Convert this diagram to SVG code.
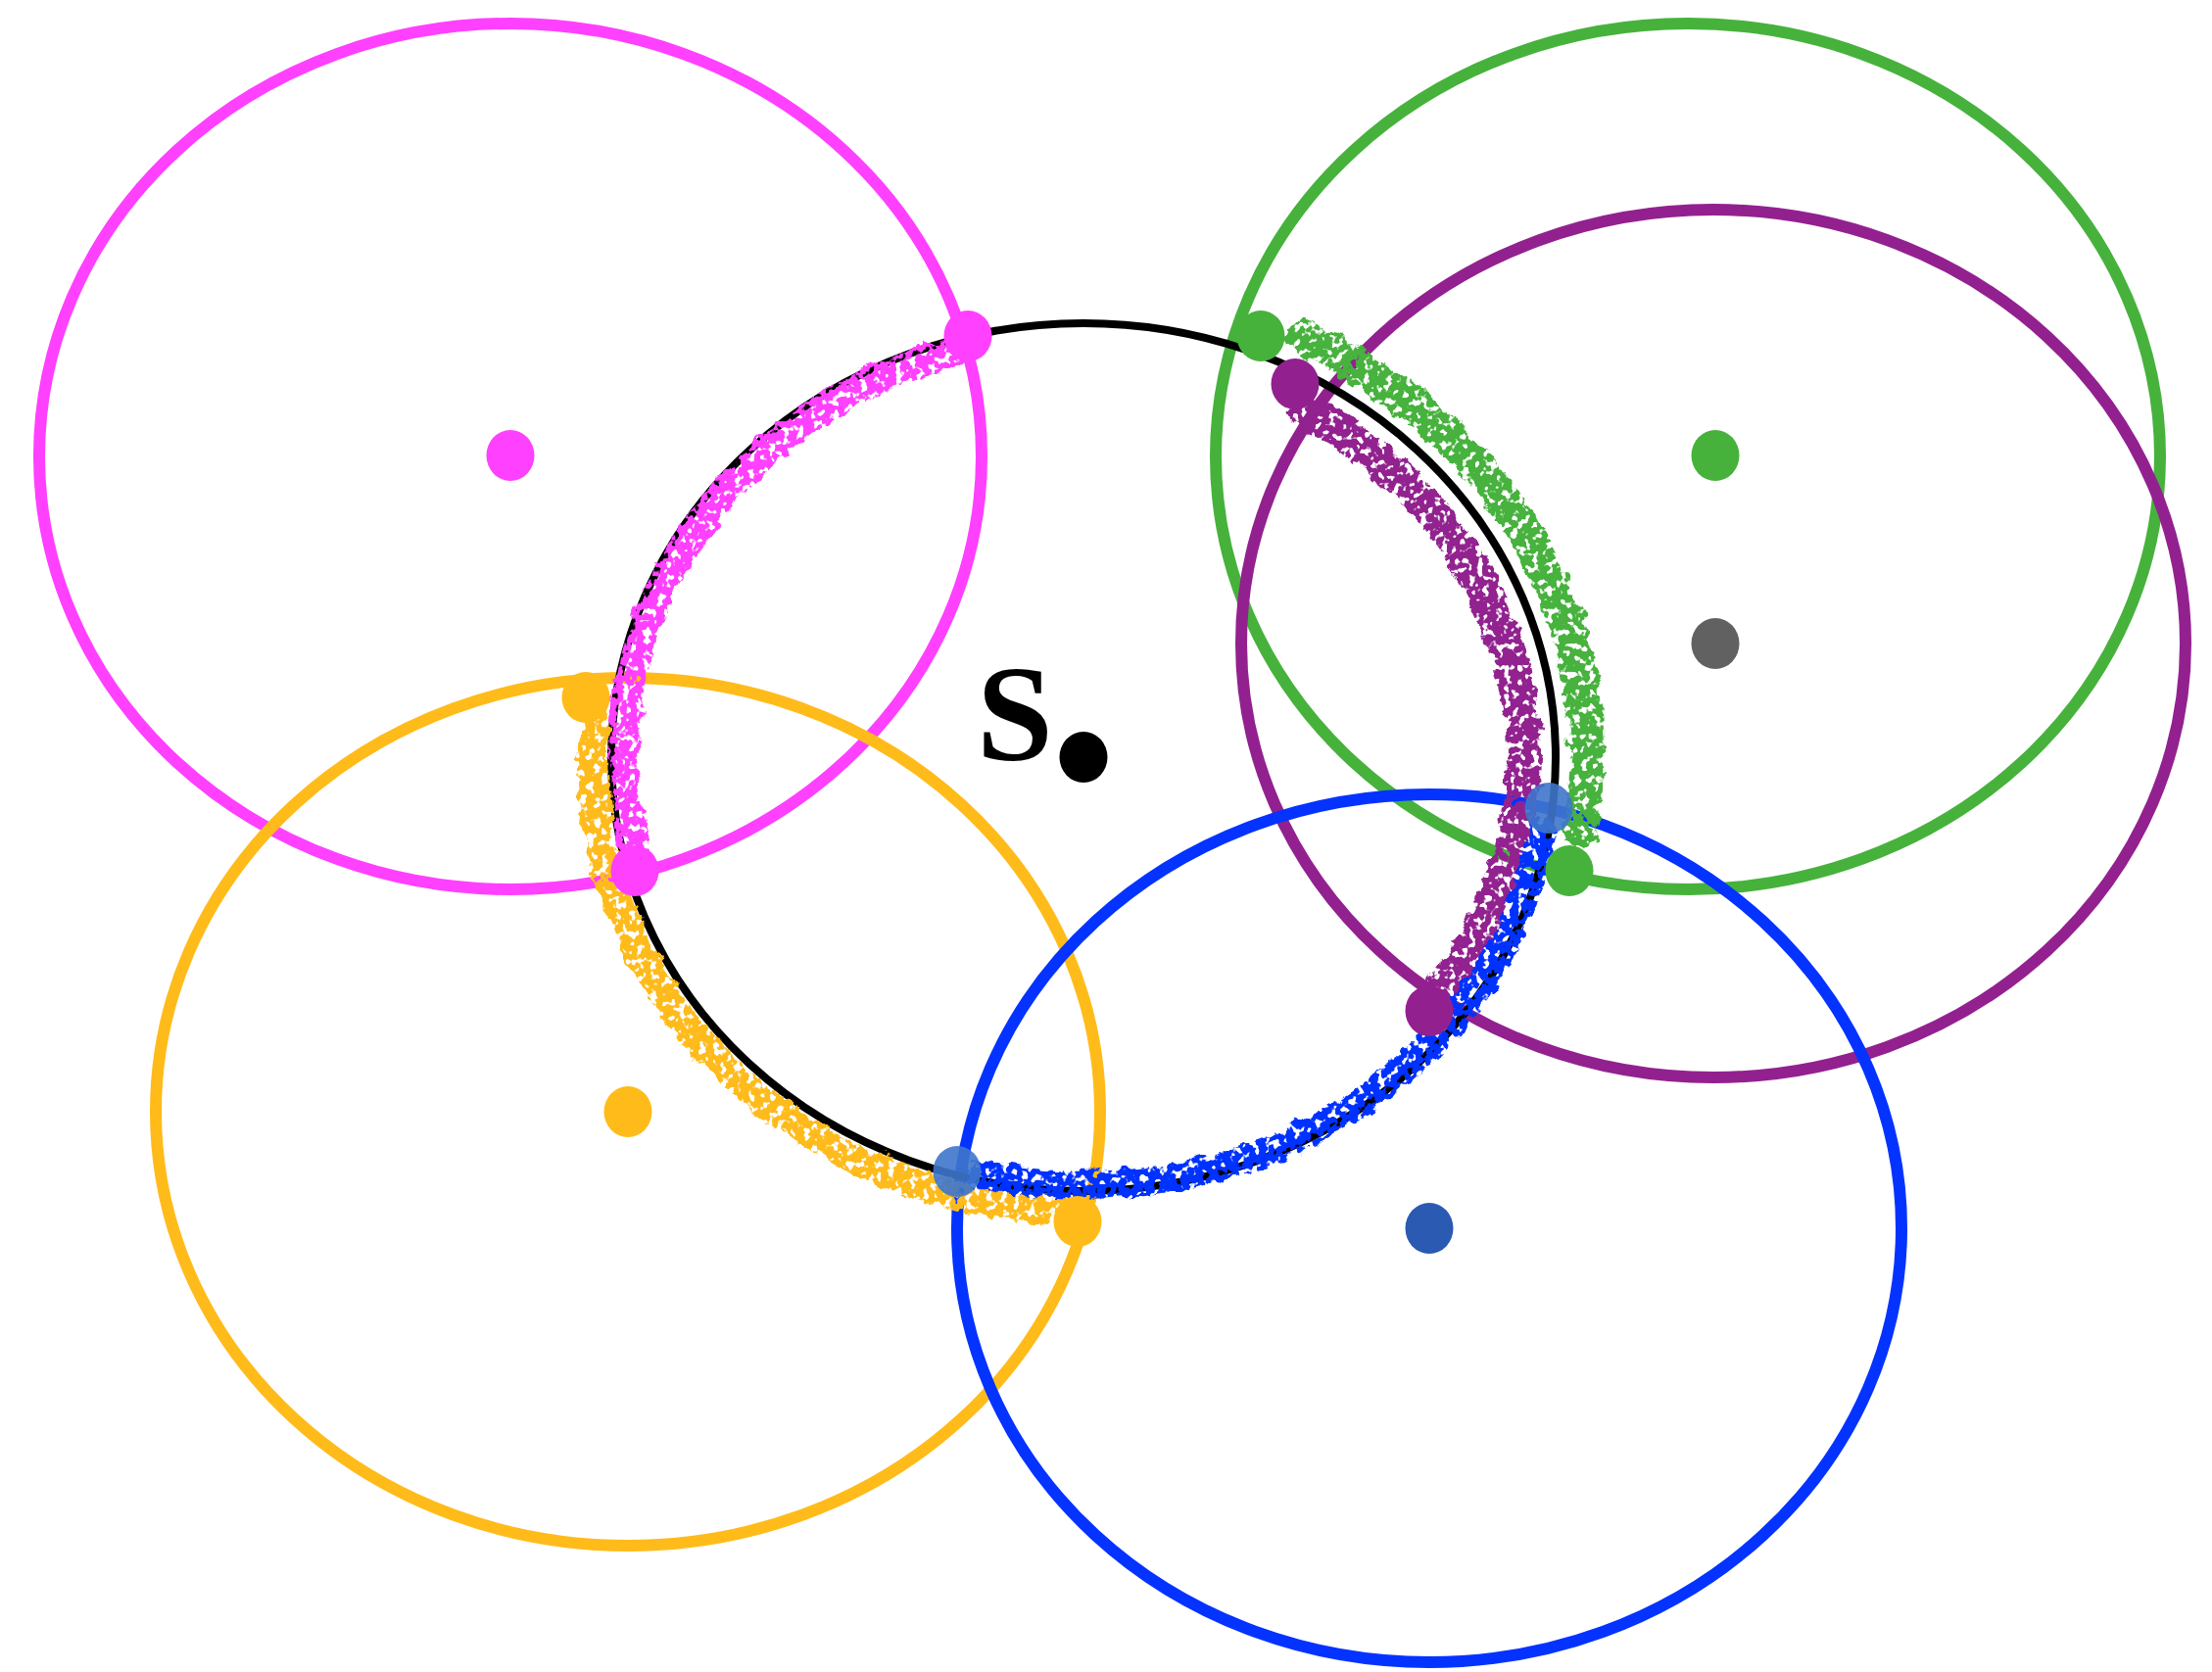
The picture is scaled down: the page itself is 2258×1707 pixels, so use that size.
<svg xmlns="http://www.w3.org/2000/svg" width="2258" height="1707" viewBox="0 0 2258 1707">
<style>
.ring{fill:none;stroke-width:12}
.chalk{fill:none;stroke-linecap:round;filter:url(#rough)}
.dot{stroke:none}
</style>
<defs>
<filter id="rough" x="-10%" y="-10%" width="120%" height="120%">
<feTurbulence type="fractalNoise" baseFrequency="0.06" numOctaves="3" seed="4" result="n"/>
<feDisplacementMap in="SourceGraphic" in2="n" scale="16" xChannelSelector="R" yChannelSelector="G" result="d"/>
<feTurbulence type="fractalNoise" baseFrequency="0.14" numOctaves="2" seed="9" result="n2"/>
<feColorMatrix in="n2" type="matrix" values="0 0 0 0 0  0 0 0 0 0  0 0 0 0 0  -12 0 0 0 7.6" result="holes"/>
<feComposite in="d" in2="holes" operator="in"/>
</filter>
</defs>
<rect width="2258" height="1707" fill="#ffffff"/>
<g id="rings">
<ellipse id="ring-pink" class="ring" cx="521" cy="466" rx="481" ry="442" stroke="#ff40ff"/>
<ellipse id="ring-green" class="ring" cx="1723" cy="466" rx="482" ry="442" stroke="#46b23c"/>
<ellipse id="ring-purple" class="ring" cx="1749" cy="657" rx="482" ry="443" stroke="#92218f"/>
<ellipse id="ring-yellow" class="ring" cx="641" cy="1135" rx="482" ry="443" stroke="#ffbb1a"/>
<ellipse id="ring-blue" class="ring" cx="1459" cy="1254" rx="482" ry="443" stroke="#0433ff"/>
<ellipse id="ring-s" cx="1106" cy="773" rx="482" ry="443" fill="none" stroke="#000000" stroke-width="8"/>
</g>
<g id="chalk-arcs">
<path id="chalk-pink" class="chalk" d="M976.5,358.7 A470,431 0 0 0 646.3,862.6" stroke="#ff40ff" stroke-width="30"/>
<path id="chalk-yellow" class="chalk" d="M605.9,732.6 A502,463 0 0 0 1079.7,1235.4" stroke="#ffbb1a" stroke-width="30"/>
<path id="chalk-purple" class="chalk" d="M1330.5,417.9 A449,410 0 0 1 1469,1014" stroke="#92218f" stroke-width="36"/>
<path id="chalk-green" class="chalk" d="M1331.3,346 A514,475 0 0 1 1613.7,847.3" stroke="#46b23c" stroke-width="36"/>
<path id="chalk-blue" class="chalk" d="M1001,1199 A476,437 0 0 0 1574.8,848.9" stroke="#0433ff" stroke-width="30"/>
</g>
<g id="dots">
<ellipse id="c-pink" class="dot" cx="521" cy="465" rx="24.5" ry="26" fill="#ff40ff"/>
<ellipse id="c-green" class="dot" cx="1751" cy="465" rx="24.5" ry="26" fill="#46b23c"/>
<ellipse id="c-gray" class="dot" cx="1751" cy="657" rx="24.5" ry="26" fill="#616161"/>
<ellipse id="c-yellow" class="dot" cx="641" cy="1135" rx="24.5" ry="26" fill="#ffbb1a"/>
<ellipse id="c-blue" class="dot" cx="1459" cy="1254" rx="24.5" ry="26" fill="#2a5ab2"/>
<ellipse id="c-s" class="dot" cx="1106" cy="773" rx="24.5" ry="26" fill="#000000"/>
<ellipse id="p-pink1" class="dot" cx="988" cy="343" rx="24.5" ry="26" fill="#ff40ff"/>
<ellipse id="p-pink2" class="dot" cx="648" cy="889" rx="24.5" ry="26" fill="#ff40ff"/>
<ellipse id="p-green1" class="dot" cx="1287" cy="343" rx="24.5" ry="26" fill="#46b23c"/>
<ellipse id="p-green2" class="dot" cx="1602" cy="889" rx="24.5" ry="26" fill="#46b23c"/>
<ellipse id="p-purple1" class="dot" cx="1322" cy="392" rx="24.5" ry="26" fill="#92218f"/>
<ellipse id="p-purple2" class="dot" cx="1459" cy="1032" rx="24.5" ry="26" fill="#92218f"/>
<ellipse id="p-yellow1" class="dot" cx="598" cy="712" rx="24.5" ry="26" fill="#ffbb1a"/>
<ellipse id="p-yellow2" class="dot" cx="1100" cy="1247" rx="24.5" ry="26" fill="#ffbb1a"/>
<ellipse id="p-steel1" class="dot" cx="977" cy="1196" rx="24.5" ry="26" fill="#3e76cc" fill-opacity="0.9"/>
<ellipse id="p-steel2" class="dot" cx="1581" cy="825" rx="24.5" ry="26" fill="#3e76cc" fill-opacity="0.9"/>
</g>
<text x="997" y="776" font-family="'Liberation Serif', 'Times New Roman', serif" font-weight="bold" font-size="140" fill="#000000">S</text>
</svg>
